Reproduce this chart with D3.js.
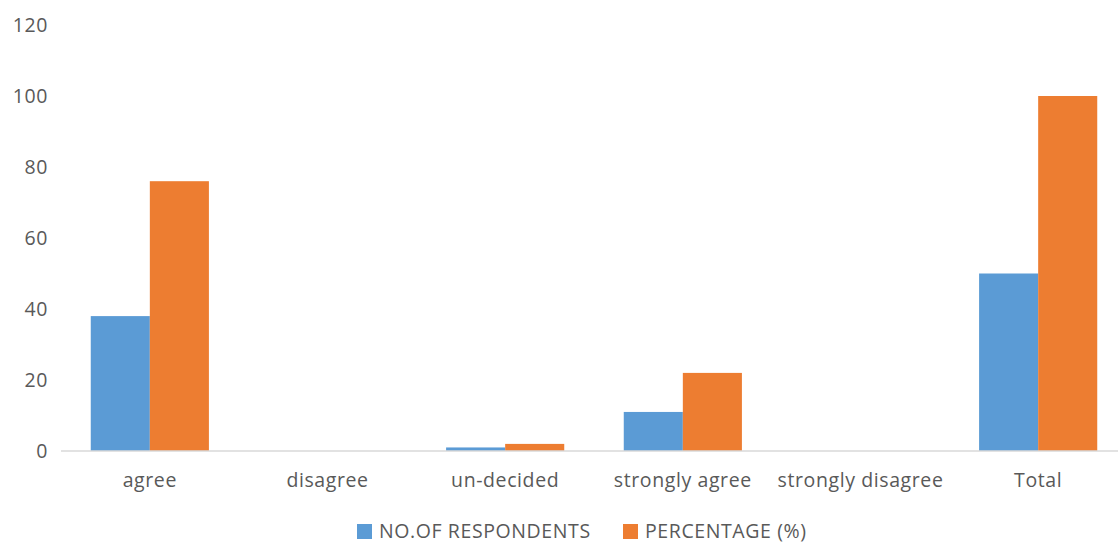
<!DOCTYPE html>
<html><head><meta charset="utf-8">
<script src="https://cdn.jsdelivr.net/npm/d3@7"></script>
<style>body{margin:0;background:#fff}svg{display:block}text{font-family:"Open Sans",sans-serif;fill:#595959;letter-spacing:0.6px}</style>
</head><body><svg id="c" width="1118" height="544"></svg>
<script>
const categories = ["agree","disagree","un-decided","strongly agree","strongly disagree","Total"];
const respondents = [38,0,1,11,0,50];
const percentage = [76,0,2,22,0,100];
const seriesNames = ["NO.OF RESPONDENTS","PERCENTAGE (%)"];
const colors = ["#5B9BD5","#ED7D31"];
const yTicks = [0,20,40,60,80,100,120];
const fs = 19.5;

const svg = d3.select("#c");
const x = d3.scaleBand().domain(categories).range([61,1127]).paddingInner(0.335).paddingOuter(0.1675);
const x1 = d3.scaleBand().domain([0,1]).range([0,x.bandwidth()]);
const y = d3.scaleLinear().domain([0,120]).range([451,25]);

svg.append("g").selectAll("text").data(yTicks).join("text")
  .attr("x",48).attr("y",d=>y(d)).attr("dy","0.35em").attr("text-anchor","end")
  .attr("font-size",fs).text(d=>d);

const data = categories.map((c,i)=>({c,vals:[respondents[i],percentage[i]]}));
const g = svg.append("g");
data.forEach(d=>{
  d.vals.forEach((v,j)=>{
    g.append("rect").attr("x",x(d.c)+x1(j)).attr("width",x1.bandwidth())
     .attr("y",y(v)).attr("height",y(0)-y(v)).attr("fill",colors[j]);
  });
});
svg.append("line").attr("x1",61).attr("x2",1127).attr("y1",y(0)).attr("y2",y(0))
  .attr("stroke","#d9d9d9").attr("stroke-width",1.3);
svg.append("g").selectAll("text").data(categories).join("text")
  .attr("x",d=>x(d)+x.bandwidth()/2).attr("y",480).attr("dy","0.35em")
  .attr("text-anchor","middle").attr("font-size",fs).text(d=>d);
const leg = svg.append("g");
const lx = [357,623];
seriesNames.forEach((n,i)=>{
  leg.append("rect").attr("x",lx[i]).attr("y",524).attr("width",15).attr("height",15).attr("fill",colors[i]);
  leg.append("text").attr("x",lx[i]+22).attr("y",531).attr("dy","0.35em").attr("font-size",fs).text(n);
});
</script></body></html>
